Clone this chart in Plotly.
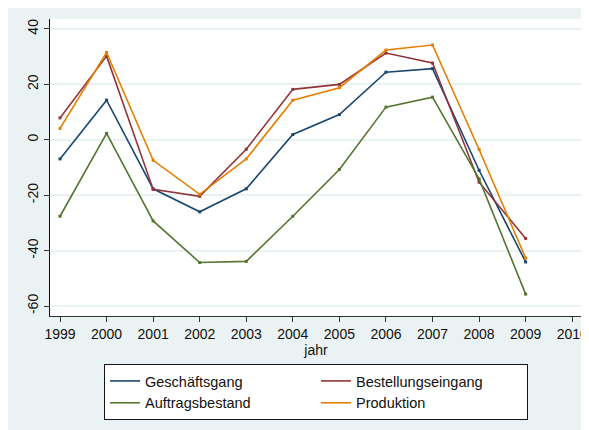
import plotly.graph_objects as go

# data
jahr = [1999, 2000, 2001, 2002, 2003, 2004, 2005, 2006, 2007, 2008, 2009]
geschaeftsgang = [-6.9, 14.3, -17.7, -26.0, -17.7, 1.9, 9.1, 24.4, 25.7, -11.0, -44.1]
bestellungseingang = [7.9, 30.2, -17.9, -20.4, -3.4, 18.2, 20.0, 31.3, 27.7, -15.3, -35.6]
auftragsbestand = [-27.6, 2.3, -29.3, -44.3, -43.9, -27.6, -10.7, 11.8, 15.4, -14.1, -55.7]
produktion = [4.1, 31.5, -7.4, -19.7, -6.9, 14.3, 18.8, 32.4, 34.2, -3.5, -42.7]

x_ticks = list(range(1999, 2011))
y_ticks = [-60, -40, -20, 0, 20, 40]
y_ticklabels = ["-60", "-40", "-20", "0", "20", "40"]

BG = "#EAF2F3"
FONT = "Liberation Sans, Arial, sans-serif"

series = [
    ("Geschäftsgang", geschaeftsgang, "#1A476F"),
    ("Bestellungseingang", bestellungseingang, "#90353B"),
    ("Auftragsbestand", auftragsbestand, "#55752F"),
    ("Produktion", produktion, "#E37E00"),
]

fig = go.Figure()
for name, vals, col in series:
    fig.add_trace(go.Scatter(
        x=jahr, y=vals, mode="lines+markers", name=name, showlegend=False,
        line=dict(color=col, width=1.6),
        marker=dict(symbol="square", size=3, color=col),
    ))
# legend shows plain lines only
for name, vals, col in series:
    fig.add_trace(go.Scatter(
        x=[None], y=[None], mode="lines", name=name,
        line=dict(color=col, width=1.6),
    ))

# page body adds ~8px offset, so the figure is sized to fill the rest
fig.update_layout(
    width=581, height=422,
    margin=dict(l=42, r=7, t=11, b=114),
    paper_bgcolor=BG, plot_bgcolor="white",
    font=dict(family=FONT, size=14, color="#111"),
    xaxis=dict(
        range=[1998.785, 2010.21], tickvals=x_ticks, automargin=False,
        showgrid=False, zeroline=False,
        showline=True, linecolor="#333", linewidth=1,
        ticks="outside", ticklen=5, tickcolor="#333",
        title=dict(text="jahr", standoff=0, font=dict(size=14)),
    ),
    yaxis=dict(
        range=[-63.6, 43.6], tickvals=y_ticks, ticktext=y_ticklabels,
        tickangle=-90, automargin=False,
        showgrid=True, gridcolor=BG, gridwidth=1.5, zeroline=False,
        showline=True, linecolor="#111", linewidth=1,
        ticks="outside", ticklen=5, tickcolor="#333",
    ),
    showlegend=True,
    legend=dict(
        orientation="h", x=0.5, xanchor="center", y=-0.1616, yanchor="top",
        bgcolor="white", bordercolor="#111", borderwidth=1,
        entrywidth=166, entrywidthmode="pixels",
        font=dict(size=14.5), traceorder="normal",
    ),
)

fig.write_html("out.html")
